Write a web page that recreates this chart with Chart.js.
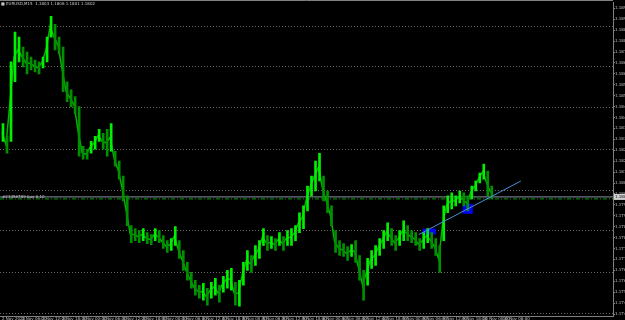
<!DOCTYPE html>
<html><head><meta charset="utf-8">
<script src="https://cdn.jsdelivr.net/npm/chart.js@4/dist/chart.umd.min.js"></script>
<style>html,body{margin:0;padding:0;background:#000;}#wrap{width:625px;height:320px;position:relative;}</style>
</head><body><div id="wrap"><canvas id="c"></canvas></div>
<script>
// ---- data ----
const barHighs = [1.18390,1.18325,1.18700,1.18850,1.18825,1.18775,1.18750,1.18725,1.18710,1.18700,
1.18725,1.18825,1.18930,1.18890,1.18825,1.18775,1.18600,1.18560,1.18525,1.18475,
1.18275,1.18260,1.18300,1.18325,1.18360,1.18340,1.18360,1.18390,1.18250,1.18200,
1.18125,1.18025,1.17875,1.17860,1.17850,1.17860,1.17840,1.17830,1.17860,1.17850,
1.17825,1.17800,1.17810,1.17870,1.17800,1.17750,1.17690,1.17640,1.17600,1.17575,
1.17585,1.17560,1.17590,1.17610,1.17575,1.17620,1.17650,1.17660,1.17590,1.17600,
1.17690,1.17750,1.17725,1.17775,1.17800,1.17860,1.17825,1.17820,1.17810,1.17840,
1.17820,1.17850,1.17860,1.17875,1.17940,1.17975,1.18075,1.18125,1.18200,1.18240,
1.18125,1.18050,1.17975,1.17850,1.17800,1.17785,1.17770,1.17780,1.17800,1.17725,
1.17650,1.17710,1.17750,1.17775,1.17810,1.17850,1.17890,1.17860,1.17825,1.17850,
1.17900,1.17875,1.17850,1.17840,1.17810,1.17840,1.17860,1.17840,1.17810,1.17775,
1.17975,1.18025,1.18040,1.18025,1.18050,1.18040,1.18025,1.18075,1.18100,1.18140,
1.18185,1.18150,1.18075];
const barLows = [1.18300,1.18240,1.18300,1.18600,1.18700,1.18675,1.18640,1.18660,1.18650,1.18640,
1.18670,1.18700,1.18825,1.18760,1.18740,1.18550,1.18500,1.18475,1.18440,1.18225,
1.18210,1.18210,1.18240,1.18260,1.18300,1.18260,1.18225,1.18250,1.18175,1.18110,
1.18000,1.17875,1.17790,1.17800,1.17790,1.17800,1.17785,1.17780,1.17800,1.17790,
1.17760,1.17740,1.17750,1.17775,1.17710,1.17650,1.17600,1.17560,1.17525,1.17510,
1.17500,1.17475,1.17510,1.17525,1.17490,1.17540,1.17560,1.17550,1.17475,1.17470,
1.17575,1.17650,1.17640,1.17675,1.17710,1.17775,1.17750,1.17760,1.17750,1.17775,
1.17750,1.17775,1.17775,1.17800,1.17840,1.17860,1.17950,1.18025,1.18050,1.18100,
1.18000,1.17940,1.17875,1.17740,1.17725,1.17720,1.17700,1.17720,1.17690,1.17600,
1.17500,1.17575,1.17660,1.17675,1.17725,1.17760,1.17800,1.17775,1.17750,1.17775,
1.17800,1.17800,1.17790,1.17775,1.17750,1.17760,1.17790,1.17760,1.17725,1.17640,
1.17800,1.17940,1.17960,1.17975,1.17990,1.17975,1.17950,1.18010,1.18050,1.18090,
1.18110,1.18025,1.18010];
const timeLabels = ["2 Nov 2020","2 Nov 06:00","2 Nov 12:00","2 Nov 18:00","3 Nov 00:00","3 Nov 06:00",
"3 Nov 12:00","3 Nov 18:00","4 Nov 00:00","4 Nov 06:00","4 Nov 12:00","4 Nov 18:00","5 Nov 00:00",
"5 Nov 06:00","5 Nov 12:00","5 Nov 18:00","6 Nov 00:00","6 Nov 06:00","6 Nov 12:00","6 Nov 18:00",
"9 Nov 00:00","9 Nov 06:00","9 Nov 12:00","9 Nov 18:00","10 Nov 00:00","10 Nov 06:00"];
const priceTicks = [1.18970,1.18915,1.18860,1.18805,1.18750,1.18695,1.18640,1.18585,1.18530,1.18475,
1.18420,1.18365,1.18310,1.18255,1.18200,1.18145,1.18090,1.18035,1.17980,1.17925,1.17870,1.17815,
1.17760,1.17705,1.17650,1.17595,1.17540,1.17485,1.17430];
const gridPrices = [1.18880,1.18675,1.18470,1.18260,1.18050,1.17850,1.17640,1.17435];
const bidPrice = 1.18020;
const orderPrice = 1.18010;
const trendX = [104, 129.5];
const trendY = [1.17830, 1.18100];
const boxX0 = [105.0, 115.0], boxX1 = [108.25, 117.5];
const boxHigh = [1.17860, 1.17985], boxLow = [1.17830, 1.17935];
const headerText = "\u25A0 EURUSD,M15  1.1803 1.1806 1.1801 1.1802";
const orderText = "#23456789 buy 0.10";
const slotsPerLabel = 5, totalSlots = 153;
const yMin = 1.17420, yMax = 1.19000;

// ---- build ----
const categories = [];
for (let i = 0; i < totalSlots; i++) {
  categories.push(i % slotsPerLabel === 0 && timeLabels[i / slotsPerLabel] ? timeLabels[i / slotsPerLabel] : '');
}
const ranges = barHighs.map((h, i) => [barLows[i], h]);
const mids = barHighs.map((h, i) => (h + barLows[i]) / 2);
const barColors = mids.map((m, i) => (i === 0 || m >= mids[i - 1]) ? '#00f000' : '#009000');
const midLine = mids.map((m, i) => ({ x: i, y: m }));

const chartPlugin = {
  id: 'mt4',
  beforeDatasetsDraw(chart) {
    const {ctx, scales} = chart;
    ctx.save();
    ctx.fillStyle = '#0000ff';
    for (let k = 0; k < boxX0.length; k++) {
      const x0 = scales.xt.getPixelForValue(boxX0[k]);
      const x1 = scales.xt.getPixelForValue(boxX1[k]);
      const y0 = scales.y.getPixelForValue(boxHigh[k]);
      const y1 = scales.y.getPixelForValue(boxLow[k]);
      ctx.fillRect(x0, y0, x1 - x0, y1 - y0);
    }
    ctx.restore();
  },
  afterDraw(chart) {
    const {ctx, scales, chartArea} = chart;
    ctx.save();
    ctx.strokeStyle = '#808080'; ctx.lineWidth = 1;
    ctx.beginPath(); ctx.moveTo(0, 0.5); ctx.lineTo(chartArea.right, 0.5); ctx.stroke();
    ctx.font = '4px "DejaVu Sans"';
    ctx.textBaseline = 'top';
    ctx.fillStyle = '#c8c8c8';
    ctx.fillText(headerText, 1, 2);
    const yo = scales.y.getPixelForValue(orderPrice);
    ctx.textBaseline = 'bottom';
    ctx.fillText(orderText, 2, yo);
    const yb = scales.y.getPixelForValue(bidPrice);
    ctx.fillStyle = '#d0d0d0';
    ctx.fillRect(chartArea.right + 1, yb - 3, 12, 6);
    ctx.fillStyle = '#000';
    ctx.textBaseline = 'middle';
    ctx.fillText(bidPrice.toFixed(4), chartArea.right + 2, yb);
    ctx.restore();
  }
};

new Chart(document.getElementById('c'), {
  type: 'bar',
  data: {
    labels: categories,
    datasets: [
      { type: 'line', xAxisID: 'xt', yAxisID: 'y', order: 5,
        data: [{x: -0.5, y: bidPrice}, {x: totalSlots - 0.5, y: bidPrice}],
        borderColor: '#8a93a0', borderWidth: 1, pointRadius: 0 },
      { type: 'line', xAxisID: 'xt', yAxisID: 'y', order: 4,
        data: [{x: -0.5, y: orderPrice}, {x: totalSlots - 0.5, y: orderPrice}],
        borderColor: '#00a000', borderWidth: 1, borderDash: [4, 2, 1, 2], pointRadius: 0 },
      { type: 'line', xAxisID: 'xt', yAxisID: 'y', order: 3,
        data: midLine, borderColor: '#00b400', borderWidth: 1.5, pointRadius: 0, tension: 0 },
      { type: 'bar', xAxisID: 'x', yAxisID: 'y', order: 2,
        data: ranges, backgroundColor: barColors, borderWidth: 0,
        barThickness: 2 },
      { type: 'line', xAxisID: 'xt', yAxisID: 'y', order: 1,
        data: [{x: trendX[0], y: trendY[0]}, {x: trendX[1], y: trendY[1]}],
        borderColor: '#4a90d9', borderWidth: 1, pointRadius: 0 }
    ]
  },
  options: {
    responsive: true, maintainAspectRatio: false, animation: false,
    layout: { padding: 0 },
    plugins: { legend: { display: false }, tooltip: { enabled: false } },
    scales: {
      x: {
        type: 'category', offset: true,
        grid: { display: true, drawOnChartArea: false, drawTicks: false, offset: false },
        border: { display: true, color: '#808080' },
        ticks: { autoSkip: false, maxRotation: 0, minRotation: 0, align: 'start', padding: 1,
          color: '#c0c0c0', font: { size: 4, family: 'DejaVu Sans' } },
        afterFit(s) { s.height = 4; }
      },
      xt: { type: 'linear', display: false, offset: false, min: -0.5, max: totalSlots - 0.5 },
      y: {
        type: 'linear', position: 'right', min: yMin, max: yMax,
        afterBuildTicks(s) { s.ticks = priceTicks.map(v => ({ value: v })); },
        afterFit(s) { s.width = 12; },
        grid: { drawOnChartArea: false, drawTicks: true, tickLength: 2, color: '#808080' },
        border: { display: true, color: '#808080' },
        ticks: { padding: 0, color: '#c0c0c0', font: { size: 4, family: 'DejaVu Sans' },
          callback: v => Number(v).toFixed(4) }
      },
      yg: {
        type: 'linear', position: 'left', min: yMin, max: yMax,
        afterBuildTicks(s) { s.ticks = gridPrices.map(v => ({ value: v })); },
        afterFit(s) { s.width = 0; },
        grid: { drawOnChartArea: true, drawTicks: false, color: '#6a6a6a' },
        border: { display: false, dash: [1, 2] },
        ticks: { display: false }
      }
    }
  },
  plugins: [chartPlugin]
});
</script>
</body></html>
